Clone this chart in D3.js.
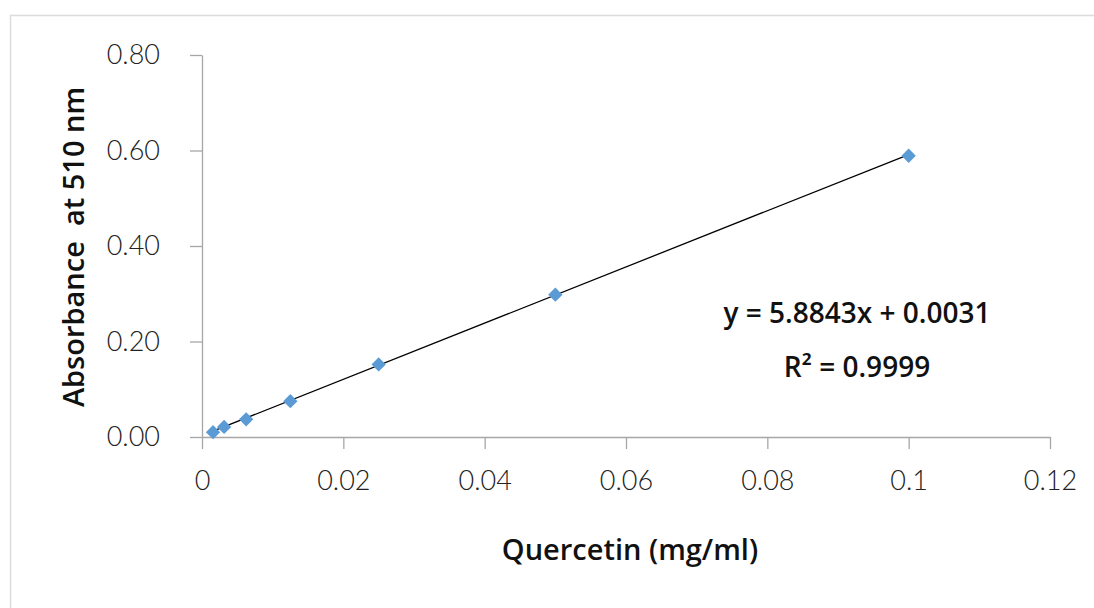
<!DOCTYPE html>
<html>
<head>
<meta charset="utf-8">
<script src="https://cdn.jsdelivr.net/npm/d3@7"></script>
<style>
  html, body { margin: 0; padding: 0; background: #ffffff; }
  svg { display: block; }
  .tick text { font-family: Lato, "Open Sans", sans-serif; font-weight: 300; fill: #222; }
  .title { font-family: "Open Sans", "Noto Sans", sans-serif; font-weight: 600; fill: #111; }
</style>
</head>
<body>
<script>
// Quercetin standard curve: concentration (mg/ml) vs absorbance at 510 nm
const concentration = [0.0015625, 0.003125, 0.00625, 0.0125, 0.025, 0.05, 0.1];
const absorbance    = [0.010, 0.021, 0.037, 0.075, 0.152, 0.298, 0.589];

// Linear fit reported for the curve
const slope = 5.8843;
const intercept = 0.0031;
const rSquared = "0.9999";

const xTicks = [0, 0.02, 0.04, 0.06, 0.08, 0.1, 0.12];
const xTickLabels = ["0", "0.02", "0.04", "0.06", "0.08", "0.1", "0.12"];
const yTicks = [0, 0.2, 0.4, 0.6, 0.8];
const yTickLabels = ["0.00", "0.20", "0.40", "0.60", "0.80"];

const W = 1094, H = 608;
const svg = d3.select("body").append("svg").attr("width", W).attr("height", H);

// chart frame
svg.append("rect")
  .attr("x", 10.5).attr("y", 15.5)
  .attr("width", W + 20).attr("height", H + 20)
  .attr("fill", "#fff").attr("stroke", "#dcdcdc").attr("stroke-width", 1.5);

const x = d3.scaleLinear().domain([0, 0.12]).range([202, 1050]);
const y = d3.scaleLinear().domain([0, 0.8]).range([437, 55]);

const axisColor = "#a6a6a6";

// x axis
const gx = svg.append("g")
  .attr("transform", `translate(0,${y(0)})`)
  .call(d3.axisBottom(x)
    .tickValues(xTicks)
    .tickFormat((d, i) => xTickLabels[i])
    .tickSize(12).tickSizeOuter(0).tickPadding(22));
gx.select(".domain").attr("stroke", axisColor).attr("stroke-width", 1.3);
gx.selectAll(".tick line").attr("stroke", axisColor).attr("stroke-width", 1.3);
gx.selectAll(".tick text").attr("font-size", 27);

// y axis
const gy = svg.append("g")
  .attr("transform", `translate(${x(0)},0)`)
  .call(d3.axisLeft(y)
    .tickValues(yTicks)
    .tickFormat((d, i) => yTickLabels[i])
    .tickSize(12).tickSizeOuter(0).tickPadding(30));
gy.select(".domain").attr("stroke", axisColor).attr("stroke-width", 1.3);
gy.selectAll(".tick line").attr("stroke", axisColor).attr("stroke-width", 1.3);
gy.selectAll(".tick text").attr("font-size", 27);

// trendline over the data range
const xMin = d3.min(concentration), xMax = d3.max(concentration);
svg.append("line")
  .attr("x1", x(xMin)).attr("y1", y(slope * xMin + intercept))
  .attr("x2", x(xMax)).attr("y2", y(slope * xMax + intercept))
  .attr("stroke", "#000").attr("stroke-width", 1.3);

// diamond markers
const pts = concentration.map((c, i) => ({ c, a: absorbance[i] }));
svg.append("g").selectAll("path")
  .data(pts)
  .join("path")
  .attr("transform", d => `translate(${x(d.c)},${y(d.a)})`)
  .attr("d", d3.symbol().type(d3.symbolDiamond2).size(130))
  .attr("fill", "#5b9bd5");

// axis titles
svg.append("text").attr("class", "title")
  .attr("x", 630).attr("y", 560)
  .attr("text-anchor", "middle").attr("font-size", 29)
  .text("Quercetin (mg/ml)");

svg.append("text").attr("class", "title")
  .attr("transform", "translate(84,247) rotate(-90)")
  .attr("text-anchor", "middle").attr("font-size", 29)
  .text("Absorbance\u00a0\u00a0at 510 nm");

// regression annotation
svg.append("text").attr("class", "title")
  .attr("x", 857).attr("y", 323)
  .attr("text-anchor", "middle").attr("font-size", 28)
  .text(`y = ${slope}x + ${intercept}`);
svg.append("text").attr("class", "title")
  .attr("x", 857).attr("y", 377)
  .attr("text-anchor", "middle").attr("font-size", 28)
  .text(`R\u00b2 = ${rSquared}`);
</script>
</body>
</html>
